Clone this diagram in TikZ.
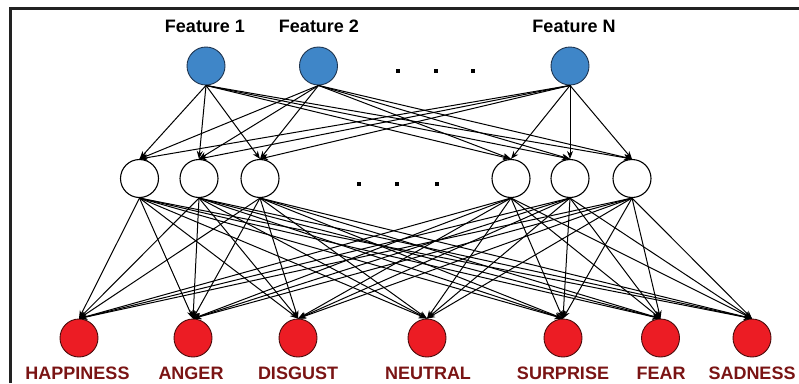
\documentclass[tikz,border=0pt]{standalone}
\usepackage{fontspec}
\setmainfont{Liberation Sans}
\usetikzlibrary{arrows.meta}
\definecolor{featblue}{HTML}{3F86C8}
\definecolor{featedge}{HTML}{1F3550}
\definecolor{emored}{HTML}{EC1C24}
\definecolor{emoedge}{HTML}{4A0C0C}
\definecolor{emotext}{HTML}{7A1414}
\definecolor{framegray}{HTML}{222222}
\tikzset{
  feat/.style={circle, draw=featedge, fill=featblue, line width=0.9pt, minimum size=38pt, inner sep=0pt},
  hid/.style={circle, draw=black, fill=white, line width=1.1pt, minimum size=38pt, inner sep=0pt},
  emo/.style={circle, draw=emoedge, fill=emored, line width=0.9pt, minimum size=38pt, inner sep=0pt},
  toplabel/.style={anchor=base, inner sep=0pt, font=\fontsize{18}{18}\selectfont\bfseries, text=black},
  emolabel/.style={anchor=base, inner sep=0pt, font=\fontsize{18}{18}\selectfont\bfseries, text=emotext},
  link/.style={line width=1pt, -{Stealth[length=8pt,width=6pt]}},
  dotmark/.style={fill=black, minimum size=3.5pt, inner sep=0pt},
}
\begin{document}
\begin{tikzpicture}[x=1pt,y=-1pt]
\useasboundingbox (0,0) rectangle (799,383);
\fill[white] (0,0) rectangle (799,383);
% frame
\draw[framegray, line width=2.7pt] (10.3,383) -- (10.3,8.3) -- (799,8.3);

% input features
\node[feat] (f1) at (206,66) {};
\node[feat] (f2) at (318.5,66) {};
\node[feat] (fn) at (570,66) {};
\node[toplabel] (lf1) at (205,32) {Feature 1};
\node[toplabel] (lf2) at (319,32) {Feature 2};
\node[toplabel] (lfn) at (574,32) {Feature N};
\foreach \x/\n in {398/a,436/b,473/c}
  \node[dotmark] (td\n) at (\x,71) {};

% hidden layer
\node[hid] (h1) at (139.5,178.5) {};
\node[hid] (h2) at (199,178.5) {};
\node[hid] (h3) at (260,178.5) {};
\node[hid] (h4) at (511,178.5) {};
\node[hid] (h5) at (570,178.5) {};
\node[hid] (h6) at (632,178.5) {};
\foreach \x/\n in {359/a,397/b,437/c}
  \node[dotmark] (md\n) at (\x,184) {};

% output emotions
\node[emo] (o1) at (79,338) {};
\node[emo] (o2) at (193,338) {};
\node[emo] (o3) at (298,338) {};
\node[emo] (o4) at (427,338) {};
\node[emo] (o5) at (563,338) {};
\node[emo] (o6) at (660.5,338) {};
\node[emo] (o7) at (752,338) {};
\node[emolabel] (l1) at (77.5,379) {HAPPINESS};
\node[emolabel] (l2) at (191,379) {ANGER};
\node[emolabel] (l3) at (298,379) {DISGUST};
\node[emolabel] (l4) at (428,379) {NEUTRAL};
\node[emolabel] (l5) at (563,379) {SURPRISE};
\node[emolabel] (l6) at (661,379) {FEAR};
\node[emolabel] (l7) at (752,379) {SADNESS};

% connections
\foreach \s in {f1,f2,fn}
  \foreach \t in {h1,h2,h3,h4,h5,h6}
    \draw[link] (\s.south) -- (\t.north);
\foreach \s in {h1,h2,h3,h4,h5,h6}
  \foreach \t in {o1,o2,o3,o4,o5,o6,o7}
    \draw[link] (\s.south) -- (\t.north);
\end{tikzpicture}
\end{document}
